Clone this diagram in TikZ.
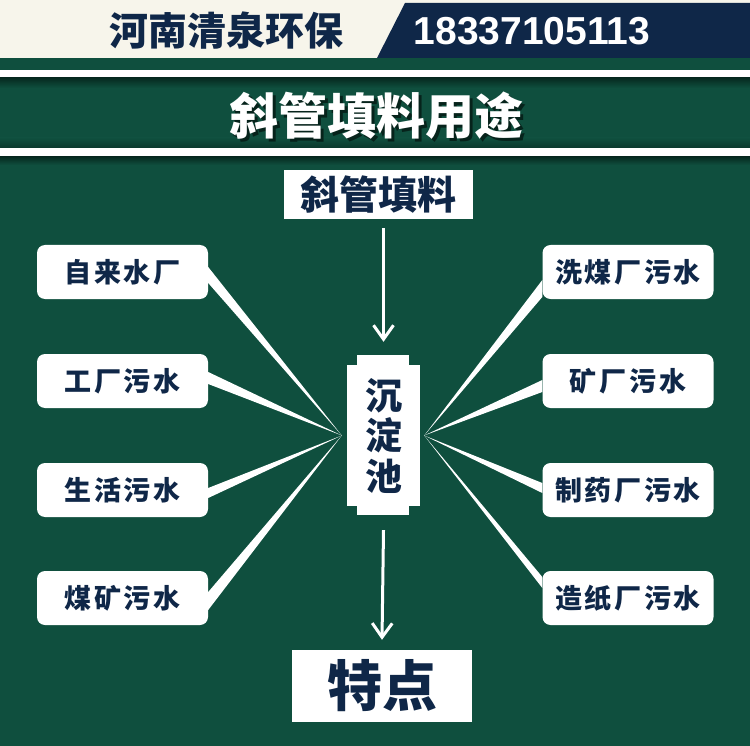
\documentclass[tikz,border=0pt]{standalone}
\usepackage{fontspec}
\setmainfont{Liberation Sans}
\newfontfamily\cjk{Noto Sans CJK SC}
\newfontfamily\cjkw{Noto Sans CJK SC}[LetterSpace=10]
\usetikzlibrary{arrows.meta,calc}
\definecolor{bg}{HTML}{0F4F3E}
\definecolor{navy}{HTML}{0F2748}
\definecolor{cream}{HTML}{F7F5EB}
\definecolor{shadowg}{HTML}{062A20}
\begin{document}
\begin{tikzpicture}[x=1pt,y=-1pt,
  lbl/.style={fill=white, rounded corners=8pt, minimum width=171pt, minimum height=54pt, inner sep=0pt, text=navy, font=\cjkw\bfseries\fontsize{27}{30}\selectfont},
  plainbox/.style={fill=white, inner sep=0pt, text=navy},
  ray/.style={fill=white},
  arr/.style={draw=white, line width=3pt, -{Straight Barb[length=14pt,width=20pt,line width=3pt]}},
]
\useasboundingbox (0,0) rectangle (750,746);
% background
\fill[bg] (0,0) rectangle (750,746);
\fill[cream] (0,0) rectangle (750,58);
\fill[navy] (405,3) -- (750,3) -- (750,58) -- (377,58) -- cycle;
\fill[white] (0,70) rectangle (750,78);
\shade[top color=shadowg, bottom color=bg] (0,78) rectangle (750,88);
\shade[top color=bg, bottom color=shadowg!60!bg] (0,138) rectangle (750,148);
\fill[white] (0,148) rectangle (750,157);
\shade[top color=shadowg, bottom color=bg] (0,157) rectangle (750,165);
% header texts
\node[text=navy, font=\cjk\bfseries\fontsize{39}{40}\selectfont] (brand) at (226,31) {河南清泉环保};
\node[text=white, font=\bfseries\fontsize{39}{40}\selectfont] (phone) at (532,31) {18337105113};
% title
\node[text=black, opacity=.55, font=\cjk\bfseries\fontsize{49}{50}\selectfont] (titleshadow) at (379,119) {斜管填料用途};
\node[text=white, font=\cjk\bfseries\fontsize{49}{50}\selectfont] (title) at (376,116) {斜管填料用途};
% main boxes
\node[plainbox, minimum width=189pt, minimum height=49pt, font=\cjk\bfseries\fontsize{39}{40}\selectfont] (src) at (378.5,194.5) {斜管填料};
\node[plainbox, minimum width=73pt, minimum height=141pt, align=center, font=\cjk\bfseries\fontsize{37}{40.5}\selectfont] (pool) at (383.5,435.5) {沉\\淀\\池};
\fill[white] ($(pool.north west)+(10,-10)$) rectangle ($(pool.north east)+(-11,0)$);
\fill[white] ($(pool.south west)+(10,0)$) rectangle ($(pool.south east)+(-11,9)$);
\node[plainbox, minimum width=180pt, minimum height=72pt, font=\cjk\bfseries\fontsize{55}{56}\selectfont] (res) at (382,686) {特点};
% side boxes
\node[lbl] (a1) at (122.5,272) {自来水厂};
\node[lbl] (a2) at (122.5,381) {工厂污水};
\node[lbl] (a3) at (122.5,490) {生活污水};
\node[lbl] (a4) at (122.5,598) {煤矿污水};
\node[lbl] (b1) at (628,272) {洗煤厂污水};
\node[lbl] (b2) at (628,381) {矿厂污水};
\node[lbl] (b3) at (628,490) {制药厂污水};
\node[lbl] (b4) at (628,598) {造纸厂污水};
% rays
\coordinate (cl) at ($(pool.west)+(-5,0)$);
\coordinate (cr) at ($(pool.east)+(4,0)$);
\fill[ray] (cl) -- ($(a1.east)+(0,-5)$) -- ($(a1.east)+(0,11)$) -- cycle;
\fill[ray] (cl) -- ($(a2.east)+(0,-9)$) -- ($(a2.east)+(0,3)$) -- cycle;
\fill[ray] (cl) -- ($(a3.east)+(0,-2)$) -- ($(a3.east)+(0,8)$) -- cycle;
\fill[ray] (cl) -- ($(a4.east)+(0,-6)$) -- ($(a4.east)+(0,12)$) -- cycle;
\fill[ray] (cr) -- ($(b1.west)+(0,8)$) -- ($(b1.west)+(0,25)$) -- cycle;
\fill[ray] (cr) -- ($(b2.west)+(0,-1)$) -- ($(b2.west)+(0,11)$) -- cycle;
\fill[ray] (cr) -- ($(b3.west)+(0,-7)$) -- ($(b3.west)+(0,3)$) -- cycle;
\fill[ray] (cr) -- ($(b4.west)+(0,-21)$) -- ($(b4.west)+(0,-10)$) -- cycle;
% arrows
\draw[arr] ($(src.south -| pool.north)+(0,9)$) -- ($(pool.north)+(0,-23)$);
\draw[arr] ($(pool.south)+(0,24)$) -- ($(res.north)+(0,-10)$);
\end{tikzpicture}
\end{document}
